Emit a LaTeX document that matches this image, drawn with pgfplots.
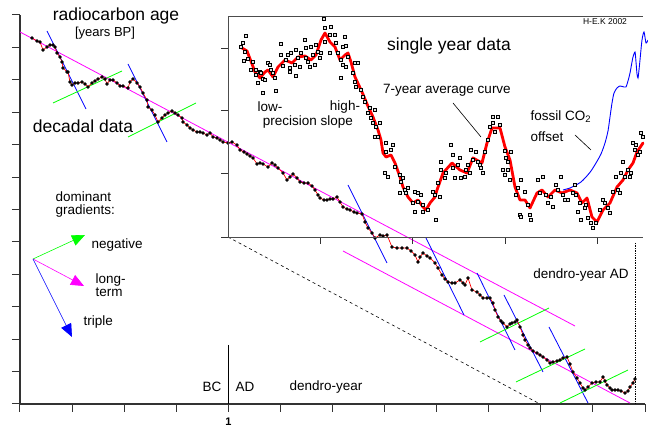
\documentclass[border=0pt]{standalone}
\usepackage{pgfplots}
\pgfplotsset{compat=1.18}
\usepackage{pgfplotstable}
\usetikzlibrary{arrows.meta}
\usepackage{fontspec}
\setmainfont{Liberation Sans}
\definecolor{mag}{RGB}{255,0,255}
\definecolor{grn}{RGB}{0,255,0}
\definecolor{blu}{RGB}{0,0,255}

% decadal data (x = dendro-year position, y = radiocarbon age position; chart units)
\pgfplotstableread{
x y
32 38
37 41
40 42
43 50
47 47
50 45
53 45
55 47
57 53
60 57
62 62
63 68
67 72
68 72
70 82
72 85
75 83
78 83
82 82
85 84
88 87
92 83
95 81
98 79
102 77
105 79
107 84
110 80
113 80
117 83
120 86
123 86
128 88
130 82
133 79
137 83
140 87
143 93
147 100
148 107
152 110
155 115
158 122
162 118
165 115
168 113
172 111
175 113
178 115
182 118
183 122
187 125
190 128
193 130
197 132
200 132
203 133
207 135
210 133
213 137
217 138
220 140
223 142
228 143
232 142
237 145
240 150
244 152
247 154
250 156
253 158
257 164
260 163
263 164
268 167
272 163
275 165
278 168
283 173
287 180
290 177
293 174
297 178
300 182
304 183
308 183
312 186
315 190
318 195
320 198
324 200
327 200
330 199
333 199
337 197
340 202
343 207
347 209
350 210
354 212
357 213
362 214
365 222
368 228
372 233
375 238
380 235
383 236
387 235
392 247
397 248
402 248
407 248
411 251
415 255
418 262
420 257
423 253
427 256
430 258
435 263
438 268
442 275
445 279
448 282
452 283
455 283
460 280
463 283
465 285
468 278
472 290
477 292
480 295
483 298
487 298
490 298
493 303
495 310
498 317
501 321
503 323
507 327
510 324
512 323
515 322
517 320
520 327
523 335
525 340
528 345
530 348
533 351
537 353
540 355
543 357
547 360
550 363
553 362
557 361
560 360
563 358
567 357
570 364
573 372
577 378
580 383
583 388
585 390
588 387
592 383
596 382
600 382
603 377
605 381
607 385
610 388
612 390
615 390
618 390
621 391
625 393
628 391
630 387
633 383
635 379
}\decadal

% single year: 7-year average curve
\pgfplotstableread{
x y
242 48
247 51
252 64
255 72
260 78
265 72
268 70
273 77
278 67
285 60
292 63
298 57
305 56
311 60
316 55
321 40
325 33
330 42
335 47
340 60
345 55
348 53
351 62
355 77
362 92
367 104
373 117
378 130
381 140
383 153
386 157
391 155
395 163
400 177
403 187
408 197
413 203
418 200
423 207
426 210
430 203
435 197
437 190
443 173
452 163
460 170
467 173
473 158
482 163
487 143
492 128
500 128
505 147
510 160
515 187
520 200
525 200
530 208
537 193
542 190
548 197
555 190
562 193
570 190
577 193
582 203
587 198
592 217
597 222
603 210
610 203
617 187
623 180
628 170
633 163
637 152
643 143
}\avgcurve

% single year: measured values
\pgfplotstableread{
x y
243 43
246 36
241 47
245 52
244 61
248 59
253 62
251 70
256 70
260 72
256 75
258 83
261 73
263 79
265 80
263 93
268 63
270 65
271 70
273 73
275 78
276 91
281 55
281 44
283 66
286 60
288 55
290 68
290 72
291 53
296 50
298 58
295 65
296 76
300 67
301 53
305 40
306 48
306 58
308 62
310 67
311 47
313 55
315 65
316 45
318 52
320 58
321 53
324 19
325 28
331 27
325 42
330 53
330 35
335 35
345 37
336 43
343 47
346 46
338 53
341 60
343 65
346 67
348 57
355 63
358 63
341 78
353 73
355 82
356 87
361 90
363 97
365 102
370 108
375 110
368 113
371 118
373 123
380 123
376 127
375 137
378 137
386 143
393 145
386 152
391 150
385 173
388 177
395 167
400 175
401 182
403 178
400 193
405 190
408 188
406 193
415 192
418 193
421 195
413 203
415 212
418 202
423 205
423 212
428 210
433 192
435 195
436 220
441 162
441 170
438 183
440 197
445 178
446 173
451 145
453 155
453 168
455 178
458 165
460 158
461 178
465 177
466 170
468 165
470 173
471 150
473 160
476 152
478 162
480 165
481 168
483 173
485 152
488 140
490 127
493 117
498 117
493 123
500 125
495 132
505 151
506 158
511 152
503 170
508 170
505 175
508 162
510 180
518 188
521 180
516 195
525 192
520 215
521 217
530 215
531 220
528 205
538 180
540 193
543 177
546 195
548 203
551 197
553 207
556 185
558 190
561 177
563 195
565 200
568 200
575 185
573 193
576 195
580 203
578 212
581 220
585 208
586 205
588 218
591 223
593 228
596 223
600 210
603 200
605 203
608 208
610 213
613 192
616 177
618 190
620 193
621 173
623 162
625 177
628 170
630 177
631 173
633 143
635 150
636 145
638 155
640 152
641 133
643 137
}\singleyear

% fossil CO2 offset curve
\pgfplotstableread{
x y
563 190
570 188
576 185
581 182
586 177
591 171
596 163
601 154
605 143
608 131
610 117
612 103
614 93
617 88
620 86
624 87
626 87
628 81
630 73
632 62
633 57
635 52
636 62
637 74
638 78
639 70
640 60
642 40
644 32
646 43
648 40
}\fossil

\begin{document}
\begin{tikzpicture}
\useasboundingbox (-20pt,-23pt) rectangle (628pt,404pt);
\begin{axis}[
  scale only axis, width=625pt, height=389pt,
  at={(0pt,0pt)}, anchor=south west,
  xmin=20, xmax=645, ymin=-404, ymax=-15,
  axis x line*=bottom, axis y line*=left,
  axis line style={-, line width=1.4pt, black!80},
  xtick={20,72.08,124.17,176.25,228.33,280.42,332.5,384.58,436.67,488.75,540.83,592.92,645},
  xticklabels={,,,,\textbf{1},,,,,,,,},
  ytick={-404,-371.58,-339.17,-306.75,-274.33,-241.92,-209.5,-177.08,-144.67,-112.25,-79.83,-47.42,-15},
  yticklabels={},
  tick align=outside, major tick length=8pt,
  every tick/.style={line width=1pt, black!80},
  x tick label style={font=\fontsize{11}{12}\selectfont, yshift=-2pt},
  clip=false,
]
% gradient lines
\addplot[mag, line width=0.8pt] coordinates {(20,-32) (575,-326)};
\addplot[mag, line width=0.8pt] coordinates {(343,-251) (630,-403)};
\addplot[blu, line width=0.8pt] coordinates {(47,-31) (86,-109)};
\addplot[blu, line width=0.8pt] coordinates {(128,-64) (167,-142)};
\addplot[blu, line width=0.8pt] coordinates {(348,-185) (387,-263)};
\addplot[blu, line width=0.8pt] coordinates {(426,-238) (464,-315)};
\addplot[blu, line width=0.8pt] coordinates {(477,-273) (515,-350)};
\addplot[blu, line width=0.8pt] coordinates {(504,-295) (543,-372)};
\addplot[blu, line width=0.8pt] coordinates {(549,-327) (588,-403)};
\addplot[grn, line width=0.8pt] coordinates {(53,-103) (122,-71)};
\addplot[grn, line width=0.8pt] coordinates {(128,-137) (196,-103)};
\addplot[grn, line width=0.8pt] coordinates {(480,-342) (549,-308)};
\addplot[grn, line width=0.8pt] coordinates {(516,-382) (585,-349)};
\addplot[grn, line width=0.8pt] coordinates {(560,-403) (628,-370)};
% decadal data
\addplot[red, line width=0.7pt, mark=*, mark size=1.3pt, mark options={draw=black, fill=black}]
  table[x=x, y expr=-\thisrow{y}] {\decadal};
% connecting lines
\draw[black, dashed, line width=0.6pt] (axis cs:228,-237) -- (axis cs:540,-404);
\draw[black, densely dotted, line width=0.7pt] (axis cs:635,-243) -- (axis cs:635,-404);
\draw[black, line width=0.8pt] (axis cs:228,-345) -- (axis cs:228,-404);
% legend arrows
\draw[grn, line width=0.6pt, -{Triangle[length=13pt,width=11pt]}] (axis cs:33,-259) -- (axis cs:85,-235);
\draw[mag, line width=0.6pt, -{Triangle[length=13pt,width=11pt]}] (axis cs:33,-259) -- (axis cs:84,-286);
\draw[blu, line width=0.6pt, -{Triangle[length=13pt,width=11pt]}] (axis cs:33,-259) -- (axis cs:72,-337);
% texts
\node[font=\fontsize{17.5}{20}\selectfont] at (axis cs:116,-16) {radiocarbon age};
\node[font=\fontsize{13}{15}\selectfont] at (axis cs:105,-33) {[years BP]};
\node[font=\fontsize{17.5}{20}\selectfont] at (axis cs:83,-126) {decadal data};
\node[font=\fontsize{13.5}{15}\selectfont, anchor=west, align=left] at (axis cs:52,-205) {dominant\\[-2pt]gradients:};
\node[font=\fontsize{13.5}{15}\selectfont, anchor=west] at (axis cs:88,-245) {negative};
\node[font=\fontsize{13.5}{15}\selectfont, anchor=west, align=left] at (axis cs:92,-285) {long-\\[-2pt]term};
\node[font=\fontsize{13.5}{15}\selectfont, anchor=west] at (axis cs:80,-322) {triple};
\node[font=\fontsize{13.5}{15}\selectfont] at (axis cs:212,-387) {BC};
\node[font=\fontsize{13.5}{15}\selectfont] at (axis cs:245,-387) {AD};
\node[font=\fontsize{13.5}{15}\selectfont] at (axis cs:326,-387) {dendro-year};
\node[font=\fontsize{13.5}{15}\selectfont] at (axis cs:581,-275) {dendro-year AD};
\end{axis}

\begin{axis}[
  scale only axis, width=415pt, height=221pt,
  at={(208pt,167pt)}, anchor=south west,
  xmin=228, xmax=643, ymin=-237, ymax=-16,
  axis x line*=box, axis y line*=left,
  axis line style={-, line width=0.9pt, black!70},
  xtick={320,412,505,597}, xticklabels={}, xtick pos=bottom,
  ytick={-237,-173,-110,-48}, yticklabels={},
  tick align=outside, major tick length=7pt,
  every tick/.style={line width=0.9pt, black!80},
  clip=false,
]
\addplot[only marks, mark=square*, mark size=1.5pt, mark options={draw=black, fill=gray!25, line width=0.8pt}]
  table[x=x, y expr=-\thisrow{y}] {\singleyear};
\addplot[red, line width=2.8pt, line join=round, line cap=round]
  table[x=x, y expr=-\thisrow{y}] {\avgcurve};
\addplot[blu, line width=0.9pt, smooth, tension=0.4]
  table[x=x, y expr=-\thisrow{y}] {\fossil};
\draw[black, line width=0.6pt] (axis cs:453,-103) -- (axis cs:481,-137);
\draw[black, line width=0.6pt] (axis cs:575,-135) -- (axis cs:591,-150);
\node[font=\fontsize{17.5}{20}\selectfont] at (axis cs:449,-46) {single year data};
\node[font=\fontsize{8.5}{10}\selectfont] at (axis cs:605,-22) {H-E.K 2002};
\node[font=\fontsize{13.5}{15}\selectfont] at (axis cs:270,-107) {low-};
\node[font=\fontsize{13.5}{15}\selectfont] at (axis cs:345,-107) {high-};
\node[font=\fontsize{13.5}{15}\selectfont] at (axis cs:308,-122) {precision slope};
\node[font=\fontsize{13.5}{15}\selectfont] at (axis cs:447,-90) {7-year average curve};
\node[font=\fontsize{13.5}{15}\selectfont, anchor=west] at (axis cs:527,-117) {fossil CO\textsubscript{2}};
\node[font=\fontsize{13.5}{15}\selectfont, anchor=west] at (axis cs:527,-137) {offset};
\end{axis}
\end{tikzpicture}
\end{document}
